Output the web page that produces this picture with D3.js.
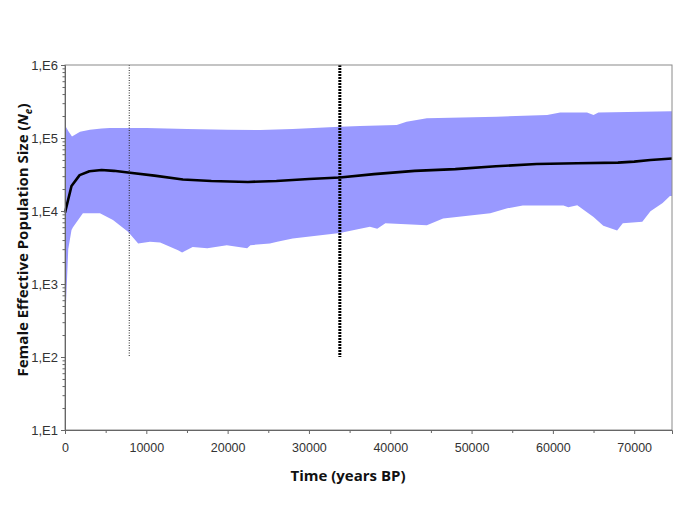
<!DOCTYPE html>
<html>
<head>
<meta charset="utf-8">
<script src="https://cdn.jsdelivr.net/npm/d3@7"></script>
<style>
  body { margin: 0; background: #fff; }
  svg { display: block; }
  .tick text { font-family: "Liberation Sans", Arial, sans-serif; fill: #333; }
</style>
</head>
<body>
<div id="chart"></div>
<script>
// Median curve (years BP, female Ne)
const medianTime = [0, 800, 1800, 3000, 4500, 6000, 8000, 11000, 14500, 18000, 22500, 26000, 30000, 33800, 38000, 43000, 48000, 53000, 58000, 63000, 68000, 70000, 72000, 74650];
const medianVals = [9500, 22000, 31000, 35000, 36500, 35500, 33500, 30500, 27000, 25800, 25000, 25800, 27500, 28800, 32000, 35500, 37500, 41000, 44000, 45000, 46000, 47500, 50000, 52500];

// Upper limit of 95% HPD
const upperTime = [0, 400, 860, 1850, 3070, 4500, 5500, 10000, 15000, 20000, 24000, 28000, 33800, 36300, 40800, 42000, 44500, 53100, 59300, 60900, 64200, 65000, 65600, 74650];
const upperVals = [150000, 125000, 105000, 122000, 130000, 135000, 137000, 137000, 133000, 130000, 129000, 133000, 143000, 146000, 151000, 167000, 186000, 196000, 206000, 224000, 224000, 206000, 224000, 232000];

// Lower limit of 95% HPD
const lowerTime = [0, 400, 800, 980, 2200, 4300, 5900, 7750, 9000, 10450, 11700, 13900, 14400, 15700, 17500, 19900, 22400, 22800, 25200, 26100, 28000, 33800, 36300, 37500, 38400, 39400, 44500, 46500, 52300, 54400, 56300, 61300, 61900, 63000, 65000, 66200, 67900, 68600, 71000, 72000, 73500, 74400, 74650];
const lowerVals = [250, 3000, 5500, 6000, 9300, 9300, 7500, 5200, 3600, 3800, 3700, 2900, 2700, 3200, 3100, 3400, 3100, 3400, 3600, 3800, 4200, 5000, 5700, 6100, 5700, 6800, 6400, 7900, 9300, 10900, 11900, 11900, 11300, 12000, 8300, 6300, 5400, 6800, 7100, 9900, 12900, 16000, 16000];

// Marker lines
const markerTimes = [7900, 33800];

const xTicks = [0, 10000, 20000, 30000, 40000, 50000, 60000, 70000];
const yTicks = [1e1, 1e2, 1e3, 1e4, 1e5, 1e6];
const yTickLabels = ["1,E1", "1,E2", "1,E3", "1,E4", "1,E5", "1,E6"];

const width = 685, height = 513;
const margin = { top: 65, right: 13, bottom: 83, left: 65 };

const svg = d3.select("#chart")
  .append("svg")
  .attr("width", width)
  .attr("height", height);

const x = d3.scaleLinear()
  .domain([0, 74650])
  .range([margin.left, width - margin.right]);

const y = d3.scaleLog()
  .domain([10, 1e6])
  .range([height - margin.bottom, margin.top]);

// Banda de confianza: borde superior + borde inferior invertido
const upperPts = upperTime.map((t, i) => [x(t), y(upperVals[i])]);
const lowerPts = lowerTime.map((t, i) => [x(t), y(lowerVals[i])]).reverse();
svg.append("path")
  .attr("d", d3.line()(upperPts.concat(lowerPts)) + "Z")
  .attr("fill", "#9999ff")
  .attr("stroke", "none");

// Mediana
svg.append("path")
  .datum(medianTime.map((t, i) => [t, medianVals[i]]))
  .attr("fill", "none")
  .attr("stroke", "#000")
  .attr("stroke-width", 2.6)
  .attr("stroke-linejoin", "round")
  .attr("d", d3.line().x(d => x(d[0])).y(d => y(d[1])));

// Lineas verticales punteadas
svg.append("line")
  .attr("x1", x(markerTimes[0])).attr("x2", x(markerTimes[0]))
  .attr("y1", y(1e6)).attr("y2", y(1e2))
  .attr("stroke", "#222")
  .attr("stroke-width", 1)
  .attr("stroke-dasharray", "1,1.5");

svg.append("line")
  .attr("x1", x(markerTimes[1])).attr("x2", x(markerTimes[1]))
  .attr("y1", y(1e6)).attr("y2", y(1e2))
  .attr("stroke", "#000")
  .attr("stroke-width", 3)
  .attr("stroke-dasharray", "2,1");

// Marco
svg.append("rect")
  .attr("x", margin.left)
  .attr("y", margin.top)
  .attr("width", width - margin.left - margin.right)
  .attr("height", height - margin.top - margin.bottom)
  .attr("fill", "none")
  .attr("stroke", "#8a8a8a")
  .attr("stroke-width", 1);

// Eje X
const xMinor = d3.range(5000, 74650, 10000);
svg.append("g")
  .attr("transform", `translate(0,${height - margin.bottom})`)
  .call(d3.axisBottom(x).tickValues(xMinor).tickSize(3).tickFormat(""))
  .call(g => g.select(".domain").remove())
  .call(g => g.selectAll("line").attr("stroke", "#666"));

svg.append("g")
  .attr("transform", `translate(0,${height - margin.bottom})`)
  .call(d3.axisBottom(x).tickValues(xTicks).tickSize(4).tickPadding(9).tickFormat(d3.format("d")))
  .call(g => g.select(".domain").attr("stroke", "#666"))
  .call(g => g.selectAll("line").attr("stroke", "#666"))
  .call(g => g.selectAll("text").attr("font-size", 12.5));

// Eje Y (log)
const yMinor = [];
yTicks.slice(0, -1).forEach(d => { for (let k = 2; k < 10; k++) yMinor.push(d * k); });
svg.append("g")
  .attr("transform", `translate(${margin.left},0)`)
  .call(d3.axisLeft(y).tickValues(yMinor).tickSize(2.5).tickFormat(""))
  .call(g => g.select(".domain").remove())
  .call(g => g.selectAll("line").attr("stroke", "#666"));

svg.append("g")
  .attr("transform", `translate(${margin.left},0)`)
  .call(d3.axisLeft(y).tickValues(yTicks).tickSize(4).tickPadding(3)
    .tickFormat((d, i) => yTickLabels[i]))
  .call(g => g.select(".domain").attr("stroke", "#666"))
  .call(g => g.selectAll("line").attr("stroke", "#666"))
  .call(g => g.selectAll("text").attr("font-size", 13));

// Titulos de ejes
svg.append("text")
  .attr("x", 348)
  .attr("y", 481)
  .attr("text-anchor", "middle")
  .attr("font-family", "'Open Sans', sans-serif")
  .attr("font-weight", "bold")
  .attr("font-size", 15)
  .attr("fill", "#111")
  .text("Time (years BP)");

const yTitle = svg.append("text")
  .attr("transform", "translate(28,240) rotate(-90)")
  .attr("text-anchor", "middle")
  .attr("font-family", "'Open Sans', sans-serif")
  .attr("font-weight", "bold")
  .attr("font-size", 15)
  .attr("fill", "#111");
yTitle.append("tspan").text("Female Effective Population Size (");
yTitle.append("tspan").attr("font-style", "italic").text("N");
yTitle.append("tspan").attr("font-style", "italic").attr("font-size", 10).attr("dy", 4).text("e");
yTitle.append("tspan").attr("dy", -4).text(")");
</script>
</body>
</html>
